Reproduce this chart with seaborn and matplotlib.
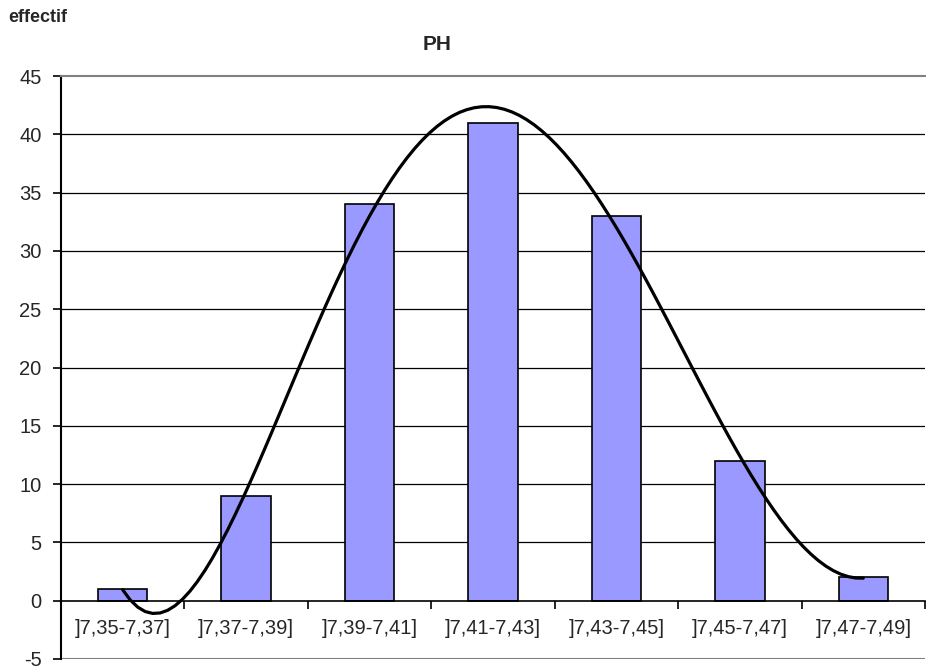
import numpy as np
import pandas as pd
import matplotlib
matplotlib.use('Agg')
import matplotlib.pyplot as plt
import seaborn as sns

# data
classes = [']7,35-7,37]', ']7,37-7,39]', ']7,39-7,41]', ']7,41-7,43]',
           ']7,43-7,45]', ']7,45-7,47]', ']7,47-7,49]']
effectif = [1, 9, 34, 41, 33, 12, 2]
yticks = list(range(-5, 50, 5))

# setup
sns.set_theme(style='white')
plt.rcParams['font.family'] = ['Liberation Sans', 'DejaVu Sans']
plt.rcParams['axes.unicode_minus'] = False
fontsize = 14.5

df = pd.DataFrame({'classe': classes, 'effectif': effectif})
df['pos'] = np.arange(len(classes))

fig = plt.figure(figsize=(9.26, 6.67), dpi=100)
ax = fig.add_axes([61 / 926, 1 - 659 / 667, (925 - 61) / 926, (659 - 76) / 667])

# grid lines
for v in yticks[1:-1]:
    if v != 0:
        ax.axhline(v, color='black', lw=0.9, zorder=0)
ax.axhline(-5, color='#808080', lw=1.5, zorder=0)

sns.barplot(data=df, x='classe', y='effectif', color='#9999FF', width=0.4,
            edgecolor='black', linewidth=1.2, saturation=1, ax=ax, zorder=2)

# polynomial trend line (order 5)
sns.regplot(data=df, x='pos', y='effectif', order=5, ci=None, scatter=False,
            truncate=True, color='black', line_kws={'lw': 2.3, 'zorder': 3}, ax=ax)

# spines first (moving a spine resets the ticks)
ax.spines['bottom'].set_position(('data', 0))
ax.spines['bottom'].set_color('black')
ax.spines['bottom'].set_linewidth(1.2)
ax.spines['bottom'].set_zorder(4)
ax.spines['left'].set_color('black')
ax.spines['left'].set_linewidth(1.5)
ax.spines['top'].set_color('#808080')
ax.spines['top'].set_linewidth(1.5)
ax.spines['right'].set_visible(False)

ax.set_xlim(-0.5, len(classes) - 0.5)
ax.set_ylim(-5, 45)
ax.set_yticks(yticks)
ax.set_xticks(np.arange(len(classes)))
ax.set_xticklabels(classes, fontsize=fontsize)
ax.set_xticks(np.arange(len(classes)) + 0.5, minor=True)
ax.tick_params(axis='x', which='major', length=0, pad=13, labelsize=fontsize)
ax.tick_params(axis='x', which='minor', length=6, width=1.2, color='black',
               direction='out', bottom=True)
ax.tick_params(axis='y', labelsize=fontsize, length=6, width=1.2, color='black',
               direction='out', left=True, pad=8)
ax.set_xlabel('')
ax.set_ylabel('')

fig.text(437 / 926, 1 - 45 / 667, 'PH', ha='center', va='center',
         fontsize=15, fontweight='bold')
fig.text(8 / 926, 1 - 17 / 667, 'effectif', ha='left', va='center',
         fontsize=13, fontweight='bold')

fig.savefig('out.png', dpi=100)
